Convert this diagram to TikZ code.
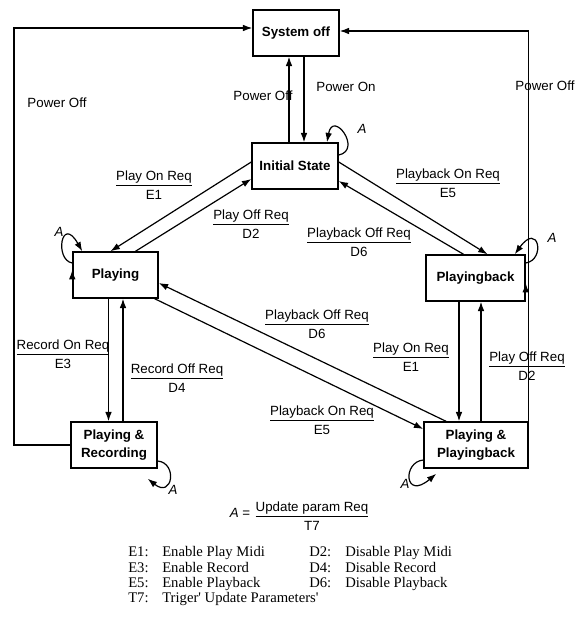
\documentclass[tikz,border=0pt]{standalone}
\usepackage{fontspec}
\setmainfont{Liberation Sans}
\newfontfamily\legfont{Liberation Serif}
\usetikzlibrary{arrows.meta,calc}
\newcommand{\fl}[2]{\begin{tabular}{@{}c@{}}#1\\\hline\rule{0pt}{10.5pt}#2\end{tabular}}
\begin{document}
\begin{tikzpicture}[x=0.75pt,y=-0.75pt,
  font=\fontsize{10}{12}\selectfont,
  state/.style={draw, line width=1.1pt, inner sep=1pt, align=center,
    font=\bfseries\fontsize{10}{13.5}\selectfont, minimum height=34.5pt},
  arr/.style={-{Latex[length=7pt,width=5pt]}, line width=0.9pt},
  ln/.style={line width=0.9pt},
  lbl/.style={inner sep=0pt},
  aname/.style={inner sep=0pt, font=\itshape\fontsize{10}{12}\selectfont},
  leg/.style={inner sep=0pt, anchor=base west, font=\legfont\fontsize{11}{13}\selectfont}]
\useasboundingbox (0,0) rectangle (587,617);

% states
\node[state, minimum width=64.5pt] (sysoff) at (296,33) {System off};
\node[state, minimum width=64.5pt] (init) at (295,166) {Initial State};
\node[state, minimum width=63.75pt] (playing) at (115.5,275) {Playing};
\node[state, minimum width=74.25pt] (pback) at (475.5,278) {Playingback};
\node[state, minimum width=64.5pt] (prec) at (114,445) {Playing \&\\Recording};
\node[state, minimum width=78pt] (pp) at (476,445) {Playing \&\\Playingback};

\coordinate (lx) at (14,0);
\coordinate (rx) at (577,0);

% outer power-off loops
\draw[arr] (prec.west) -- (prec.west -| lx) |- ($(sysoff.west)+(0,-5)$);
\draw[arr] ($(playing.west)+(0,-5)$) -- ($(playing.west)+(0,-5)$ -| lx);
\draw[arr] ($(pp.east)+(0,4)$) -- ($(pp.east)+(0,4)$ -| rx) |- ($(sysoff.east)+(0,-2)$);
\draw[arr] ($(pback.east)+(0,5)$) -- ($(pback.east)+(0,5)$ -| rx);

% system off <-> initial
\draw[arr] ($(init.north)+(-6,0)$) -- ($(sysoff.south)+(-7,0)$);
\draw[arr] ($(sysoff.south)+(8,0)$) -- ($(init.north)+(9,0)$);

% diagonals
\draw[arr] ($(init.west)+(0,-4)$) -- ($(playing.north)+(-5,0)$);
\draw[arr] ($(playing.north)+(20,0)$) -- ($(init.west)+(0,13)$);
\draw[arr] ($(init.east)+(0,-4)$) -- ($(pback.north)+(12,0)$);
\draw[arr] ($(pback.north)+(-12,0)$) -- ($(init.east)+(0,15)$);
\draw[arr] ($(pp.north)+(-30,0)$) -- ($(playing.east)+(0,8)$);
\draw[arr] ($(playing.south east)+(-4,0)$) -- ($(pp.west)+(0,-16)$);

% verticals
\draw[arr] ($(playing.south)+(-7,0)$) -- ($(prec.north)+(-5.5,0)$);
\draw[arr] ($(prec.north)+(9,0)$) -- ($(playing.south)+(7.5,0)$);
\draw[arr] ($(pback.south)+(-16.5,0)$) -- ($(pp.north)+(-17,0)$);
\draw[arr] ($(pp.north)+(5,0)$) -- ($(pback.south)+(5.5,0)$);

% self loops
\draw[arr] ($(init.east)+(0,-11)$) .. controls +(24,-5) and +(6,-33) .. ($(init.north)+(32,0)$);
\draw[arr] ($(playing.west)+(0,-12)$) .. controls +(-18,-3) and +(-21,-37) .. ($(playing.north west)+(10,0)$);
\draw[arr] ($(pback.east)+(0,-15)$) .. controls +(20,-3) and +(24,-33) .. ($(pback.north east)+(-11,0)$);
\draw[arr] ($(prec.east)+(0,16)$) .. controls +(20,2) and +(25,20) .. ($(prec.south east)+(-10,10)$);
\draw[arr] ($(pp.west)+(0,15)$) .. controls +(-21,2) and +(-32,27) .. ($(pp.south west)+(13,5)$);

\node[aname] (a1) at (362,129) {A};
\node[aname] (a2) at (59,232) {A};
\node[aname] (a3) at (552,238) {A};
\node[aname] (a4) at (173,490) {A};
\node[aname] (a5) at (405,484) {A};

% power labels
\node[lbl] (p1) at (57,103) {Power Off};
\node[lbl] (p2) at (263,96) {Power Off};
\node[lbl] (p3) at (346,87) {Power On};
\node[lbl] (p4) at (545,86) {Power Off};

% transition labels
\node[lbl] (t1) at (154,187) {\fl{Play On Req}{E1}};
\node[lbl] (t2) at (251,225.5) {\fl{Play Off Req}{D2}};
\node[lbl] (t3) at (448,184.5) {\fl{Playback On Req}{E5}};
\node[lbl] (t4) at (359,244) {\fl{Playback Off Req}{D6}};
\node[lbl] (t5) at (317,325.5) {\fl{Playback Off Req}{D6}};
\node[lbl] (t6) at (322,422) {\fl{Playback On Req}{E5}};
\node[lbl] (t7) at (63,355.5) {\fl{Record On Req}{E3}};
\node[lbl] (t8) at (177,379.5) {\fl{Record Off Req}{D4}};
\node[lbl] (t9) at (411,359) {\fl{Play On Req}{E1}};
\node[lbl] (t10) at (527,367.5) {\fl{Play Off Req}{D2}};

% formula
\node[lbl] (aeq) at (240,513) {\itshape A\upshape\ =};
\node[lbl] (frac) at (312,517.5) {\fl{Update param Req}{T7}};

% legend
\node[leg] (k1) at (128,556) {E1:};
\node[leg] (v1) at (162,556) {Enable Play Midi};
\node[leg] (k2) at (309,556) {D2:};
\node[leg] (v2) at (345,556) {Disable Play Midi};
\node[leg] (k3) at (128,572) {E3:};
\node[leg] (v3) at (162,572) {Enable Record};
\node[leg] (k4) at (309,572) {D4:};
\node[leg] (v4) at (345,572) {Disable Record};
\node[leg] (k5) at (128,587) {E5:};
\node[leg] (v5) at (162,587) {Enable Playback};
\node[leg] (k6) at (309,587) {D6:};
\node[leg] (v6) at (345,587) {Disable Playback};
\node[leg] (k7) at (128,602) {T7:};
\node[leg] (v7) at (162,602) {Triger' Update Parameters'};
\end{tikzpicture}
\end{document}
